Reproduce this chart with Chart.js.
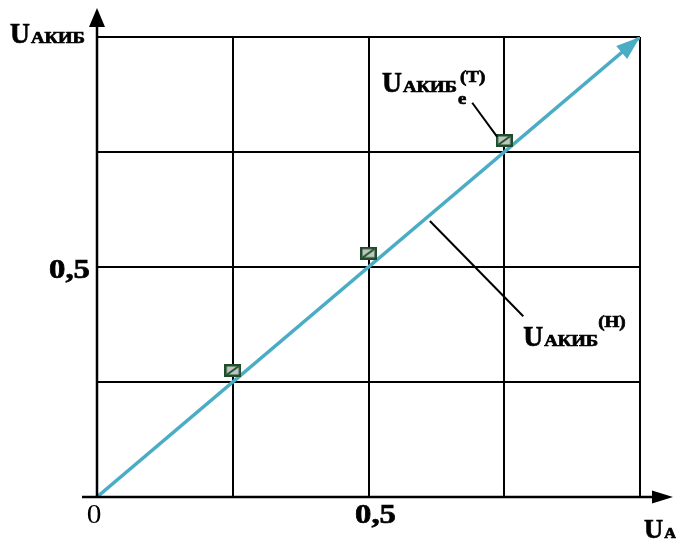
<!DOCTYPE html>
<html>
<head>
<meta charset="utf-8">
<script src="https://cdn.jsdelivr.net/npm/chart.js@4.4.1/dist/chart.umd.min.js"></script>
<style>
  html, body { margin: 0; padding: 0; background: #fff; }
  canvas { display: block; }
</style>
</head>
<body>
<canvas id="chart" width="676" height="539"></canvas>
<script>
// ── DATA ──
const GRID_STEP   = 0.25;
const IDEAL_X     = [0, 1];
const IDEAL_Y     = [0, 1];
const MEAS_X      = [0.25, 0.5, 0.75];
const MEAS_Y      = [0.275, 0.53, 0.775];
const X_TICK_VALS = [0, 0.5];
const X_TICK_TXT  = ['0', '0,5'];
const Y_TICK_VALS = [0.5];
const Y_TICK_TXT  = ['0,5'];

const LINE_BLUE = '#4BACC6';
const MARK_DARK = '#1E4D2B';
const SERIF     = '"Liberation Serif","Times New Roman",serif';
const WIDE      = 1.17;   // glyphs in the original are a bit stretched

// measured-point marker: green frame, gray face, diagonal stroke
function makeMarker() {
    const c = document.createElement('canvas');
    c.width = 17; c.height = 13;
    const g = c.getContext('2d');
    g.fillStyle = MARK_DARK;
    g.fillRect(0, 0, 17, 13);
    g.fillStyle = '#BFC5BF';
    g.fillRect(2.5, 2.5, 12, 8);
    g.strokeStyle = MARK_DARK;
    g.lineWidth = 1.8;
    g.beginPath(); g.moveTo(3, 10.5); g.lineTo(14, 2.5); g.stroke();
    return c;
}

function font(px, bold) {
    return (bold ? 'bold ' : '') + px + 'px ' + SERIF;
}

// left-aligned text with horizontal stretch, returns right edge
function put(ctx, s, x, base, px, bold, sx) {
    ctx.font = font(px, bold);
    ctx.save();
    ctx.translate(x, base);
    ctx.scale(sx, 1);
    ctx.textAlign = 'left';
    ctx.fillText(s, 0, 0);
    if (bold) {             // original lettering is heavier
        ctx.lineWidth = 0.7;
        ctx.strokeText(s, 0, 0);
    }
    ctx.restore();
    return x + ctx.measureText(s).width * sx;
}

function textW(ctx, s, px, bold, sx) {
    ctx.font = font(px, bold);
    return ctx.measureText(s).width * sx;
}

// "U" + small caps subscript
function drawU(ctx, word, x, base, big, small) {
    const e = put(ctx, 'U', x, base, big, true, 0.95);
    return put(ctx, word, e + 1, base, small, true, WIDE);
}

function arrowHead(ctx, tx, ty, ang, len, half) {
    const bx = tx - Math.cos(ang) * len, by = ty - Math.sin(ang) * len;
    const nx = -Math.sin(ang) * half, ny = Math.cos(ang) * half;
    ctx.beginPath();
    ctx.moveTo(tx, ty);
    ctx.lineTo(bx + nx, by + ny);
    ctx.lineTo(bx - nx, by - ny);
    ctx.closePath();
    ctx.fill();
}

// ── OVERLAY: axes with arrows, labels, annotations ──
const overlay = {
    id: 'overlay',
    afterDraw(chart) {
        const { ctx, scales: { x, y }, chartArea: a } = chart;
        const x0 = x.getPixelForValue(0), y0 = y.getPixelForValue(0);
        ctx.save();
        ctx.strokeStyle = '#000';
        ctx.fillStyle = '#000';
        ctx.lineWidth = 2.5;
        ctx.textBaseline = 'alphabetic';

        // x axis
        ctx.beginPath(); ctx.moveTo(x0 - 15, y0); ctx.lineTo(a.right + 14, y0); ctx.stroke();
        arrowHead(ctx, a.right + 33, y0, 0, 21, 6.5);
        // y axis
        ctx.beginPath(); ctx.moveTo(x0, y0); ctx.lineTo(x0, a.top - 12); ctx.stroke();
        arrowHead(ctx, x0, a.top - 29, -Math.PI / 2, 19, 8);

        // ideal-line arrowhead
        const tx = x.getPixelForValue(IDEAL_X[1]), ty = y.getPixelForValue(IDEAL_Y[1]);
        const sx = x.getPixelForValue(IDEAL_X[0]), sy = y.getPixelForValue(IDEAL_Y[0]);
        ctx.fillStyle = LINE_BLUE;
        arrowHead(ctx, tx, ty, Math.atan2(ty - sy, tx - sx), 24, 8.5);
        ctx.fillStyle = '#000';

        // tick labels
        X_TICK_VALS.forEach((v, i) => {
            const bold = v !== 0, s = X_TICK_TXT[i];
            const w = textW(ctx, s, 28, bold, bold ? WIDE : 1.05);
            const cx = x.getPixelForValue(v) + (v === 0 ? -3 : 7);
            put(ctx, s, cx - w / 2, y0 + 26, 28, bold, bold ? WIDE : 1.05);
        });
        Y_TICK_VALS.forEach((v, i) => {
            const s = Y_TICK_TXT[i];
            const w = textW(ctx, s, 28, true, WIDE);
            put(ctx, s, x0 - 7 - w, y.getPixelForValue(v) + 11, 28, true, WIDE);
        });

        // axis titles
        drawU(ctx, 'АКИБ', 10, a.top + 6, 29, 16);
        drawU(ctx, 'А', a.right + 4, y0 + 41, 28, 14);

        // annotation: theoretical points
        ctx.lineWidth = 2;
        const bT = y.getPixelForValue(0.88);
        let e = drawU(ctx, 'АКИБ', x.getPixelForValue(0.525), bT, 29, 16);
        put(ctx, 'e', e + 1, bT + 12, 17, true, 1.1);
        put(ctx, '(Т)', e + 3, bT - 10, 17, true, 1.12);
        ctx.lineWidth = 2;
        ctx.beginPath();
        ctx.moveTo(x.getPixelForValue(0.691), y.getPixelForValue(0.857));
        ctx.lineTo(x.getPixelForValue(0.737), y.getPixelForValue(0.783));
        ctx.stroke();

        // annotation: ideal line
        const bH = y.getPixelForValue(0.328);
        e = drawU(ctx, 'АКИБ', x.getPixelForValue(0.785), bH, 29, 16);
        put(ctx, '(Н)', e, bH - 19, 17, true, 1.12);
        ctx.lineWidth = 2;
        ctx.beginPath();
        ctx.moveTo(x.getPixelForValue(0.613), y.getPixelForValue(0.60));
        ctx.lineTo(x.getPixelForValue(0.785), y.getPixelForValue(0.393));
        ctx.stroke();

        ctx.restore();
    }
};

const gridOpts = { color: '#000', lineWidth: 2, drawTicks: false };

new Chart(document.getElementById('chart'), {
    type: 'line',
    data: {
        datasets: [
            {
                label: 'ideal',
                data: IDEAL_X.map((v, i) => ({ x: v, y: IDEAL_Y[i] })),
                borderColor: LINE_BLUE,
                borderWidth: 3.5,
                pointRadius: 0,
                order: 2
            },
            {
                label: 'measured',
                data: MEAS_X.map((v, i) => ({ x: v, y: MEAS_Y[i] })),
                showLine: false,
                pointStyle: makeMarker(),
                order: 1
            }
        ]
    },
    options: {
        responsive: false,
        animation: false,
        layout: { padding: { left: 97, right: 36, top: 37, bottom: 42 } },
        plugins: { legend: { display: false }, tooltip: { enabled: false } },
        scales: {
            x: {
                type: 'linear', min: 0, max: 1,
                ticks: { display: false, stepSize: GRID_STEP },
                grid: gridOpts,
                border: { display: false }
            },
            y: {
                type: 'linear', min: 0, max: 1,
                ticks: { display: false, stepSize: GRID_STEP },
                grid: gridOpts,
                border: { display: false }
            }
        }
    },
    plugins: [overlay]
});
</script>
</body>
</html>
